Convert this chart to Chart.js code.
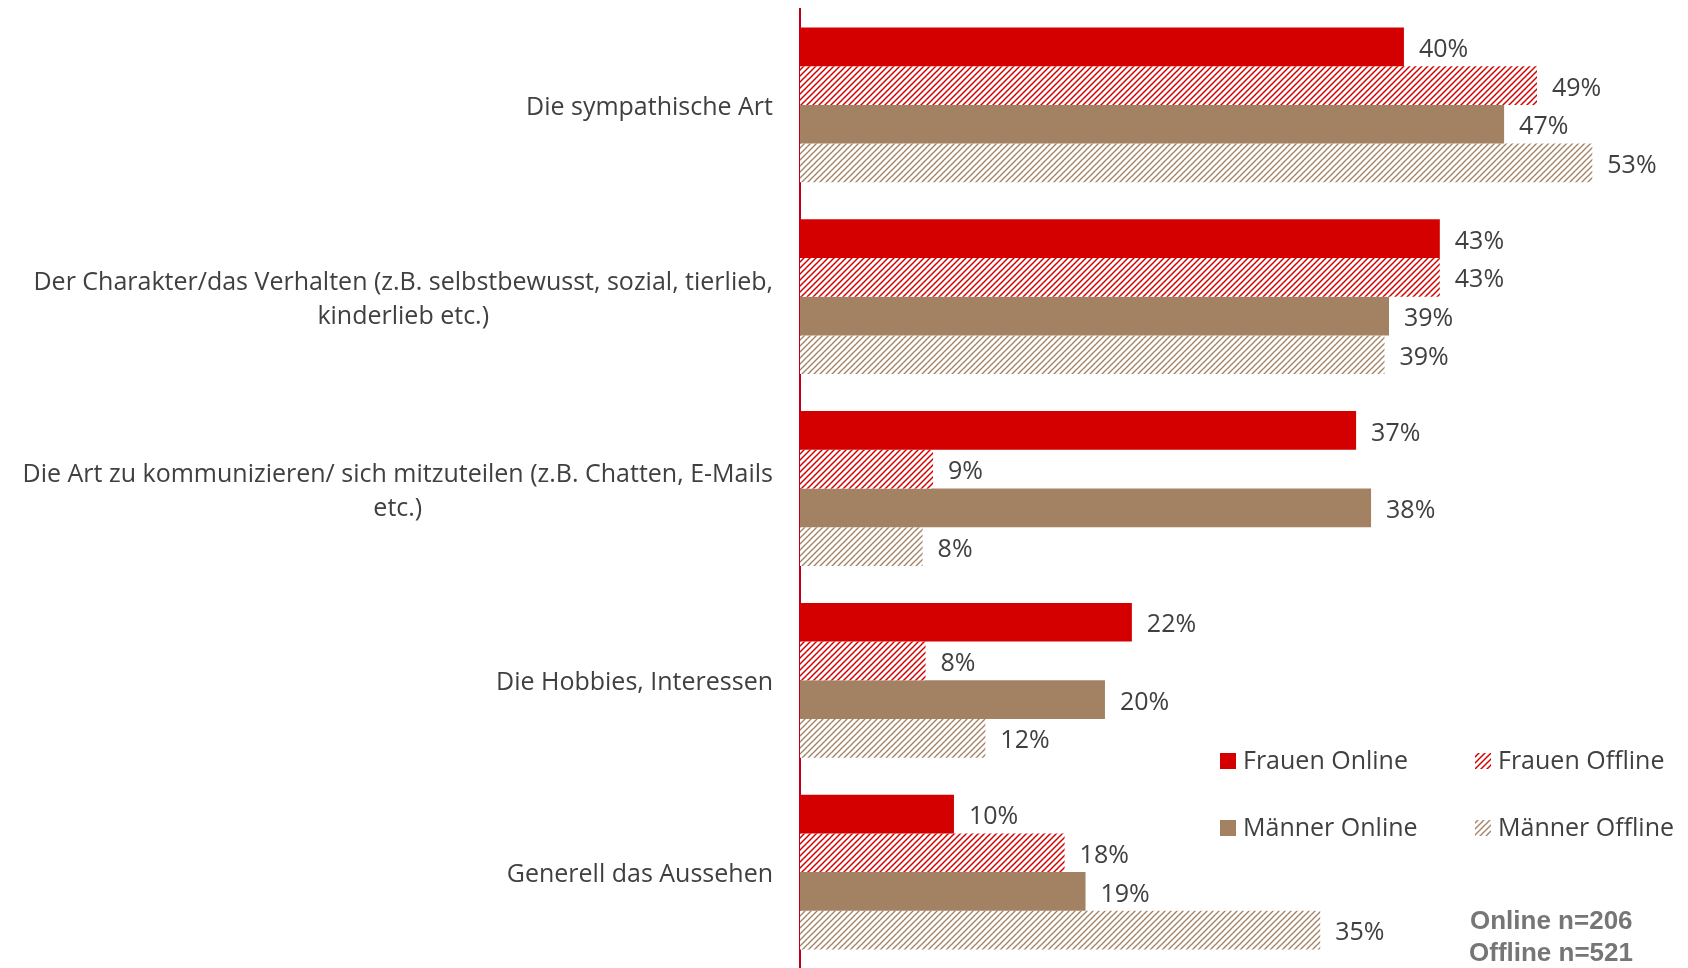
<!DOCTYPE html>
<html>
<head>
<meta charset="utf-8">
<script src="https://cdn.jsdelivr.net/npm/chart.js@4/dist/chart.umd.min.js"></script>
<style>
html,body{margin:0;padding:0;background:#fff;}
#wrap{position:relative;width:1688px;height:968px;}
</style>
</head>
<body>
<div id="wrap"><canvas id="c" width="1688" height="968"></canvas></div>
<script>
const categories = [
  "Die sympathische Art",
  ["Der Charakter/das Verhalten (z.B. selbstbewusst, sozial, tierlieb,", "kinderlieb etc.)"],
  ["Die Art zu kommunizieren/ sich mitzuteilen (z.B. Chatten, E-Mails", "etc.)"],
  "Die Hobbies, Interessen",
  "Generell das Aussehen"
];
const seriesNames = ["Frauen Online", "Frauen Offline", "Männer Online", "Männer Offline"];
const frauenOnline  = [40.4, 42.8, 37.2, 22.2, 10.3];
const frauenOffline = [49.3, 42.8, 8.9, 8.4, 17.7];
const maennerOnline = [47.1, 39.4, 38.2, 20.4, 19.1];
const maennerOffline= [53.0, 39.1, 8.2, 12.4, 34.8];
const sampleNotes = ["Online n=206", "Offline n=521"];

const RED = '#D40000';
const BROWN = '#A38163';
const TXT = '#404040';
const FONT = '"Open Sans", sans-serif';

function hatch(color, lw) {
  const s = 6;
  const c = document.createElement('canvas');
  c.width = s; c.height = s;
  const g = c.getContext('2d');
  g.fillStyle = '#fff';
  g.fillRect(0, 0, s, s);
  g.strokeStyle = color;
  g.lineWidth = lw;
  for (const k of [-s, 0, s]) {
    g.beginPath();
    g.moveTo(k - 1, s + 1);
    g.lineTo(k + s + 1, -1);
    g.stroke();
  }
  return document.getElementById('c').getContext('2d').createPattern(c, 'repeat');
}
const redHatch = hatch(RED, 1.5);
const brownHatch = hatch(BROWN, 1.3);
const fills = [RED, redHatch, BROWN, brownHatch];

const valueLabels = {
  id: 'valueLabels',
  afterDatasetsDraw(chart) {
    const ctx = chart.ctx;
    ctx.save();
    ctx.font = '25px ' + FONT;
    ctx.fillStyle = TXT;
    ctx.textAlign = 'left';
    ctx.textBaseline = 'middle';
    chart.data.datasets.forEach((ds, i) => {
      const meta = chart.getDatasetMeta(i);
      meta.data.forEach((bar, j) => {
        ctx.fillText(Math.round(ds.data[j]) + '%', bar.x + 15, bar.y + 3);
      });
    });
    ctx.restore();
  }
};

const categoryLabels = {
  id: 'categoryLabels',
  afterDraw(chart) {
    const ctx = chart.ctx;
    const y = chart.scales.y;
    const right = chart.chartArea.left - 27;
    const lh = 34;
    ctx.save();
    ctx.font = '25px ' + FONT;
    ctx.fillStyle = TXT;
    ctx.textBaseline = 'middle';
    ctx.textAlign = 'center';
    chart.data.labels.forEach((lab, i) => {
      const lines = Array.isArray(lab) ? lab : [lab];
      const w = Math.max(...lines.map(l => ctx.measureText(l).width));
      const cx = right - w / 2;
      const cy = y.getPixelForTick(i) + 3;
      const y0 = cy - (lines.length - 1) * lh / 2;
      lines.forEach((l, k) => ctx.fillText(l, cx, y0 + k * lh));
    });
    ctx.restore();
  }
};

const customLegend = {
  id: 'customLegend',
  afterDraw(chart) {
    const ctx = chart.ctx;
    ctx.save();
    const pos = [[1220, 761], [1475, 761], [1220, 828], [1475, 828]];
    ctx.font = '25px ' + FONT;
    ctx.textBaseline = 'middle';
    ctx.textAlign = 'left';
    seriesNames.forEach((n, i) => {
      const [x, yy] = pos[i];
      ctx.fillStyle = fills[i];
      ctx.fillRect(x, yy - 8, 16, 16);
      ctx.fillStyle = TXT;
      ctx.fillText(n, x + 23, yy + 1);
    });
    ctx.font = 'bold 26px "Liberation Sans", Arial, sans-serif';
    ctx.fillStyle = '#767676';
    ctx.fillText(sampleNotes[0], 1470, 922);
    ctx.fillText(sampleNotes[1], 1469, 954);
    ctx.restore();
  }
};

new Chart(document.getElementById('c'), {
  type: 'bar',
  data: {
    labels: categories,
    datasets: [
      { label: seriesNames[0], data: frauenOnline,  backgroundColor: fills[0] },
      { label: seriesNames[1], data: frauenOffline, backgroundColor: fills[1] },
      { label: seriesNames[2], data: maennerOnline, backgroundColor: fills[2] },
      { label: seriesNames[3], data: maennerOffline,backgroundColor: fills[3] }
    ]
  },
  options: {
    indexAxis: 'y',
    responsive: false,
    animation: false,
    devicePixelRatio: 1,
    layout: { padding: { top: 9, right: 6, bottom: 0, left: 0 } },
    datasets: { bar: { categoryPercentage: 0.807, barPercentage: 1.0 } },
    plugins: { legend: { display: false }, tooltip: { enabled: false } },
    scales: {
      x: { display: false, min: 0, max: 59 },
      y: {
        position: 'left',
        grid: { display: false, drawTicks: false },
        border: { display: true, color: '#C0001A', width: 2 },
        ticks: { display: false },
        afterFit(scale) { scale.width = 800; scale.paddingTop = 0; scale.paddingBottom = 0; }
      }
    }
  },
  plugins: [valueLabels, categoryLabels, customLegend]
});
</script>
</body>
</html>
